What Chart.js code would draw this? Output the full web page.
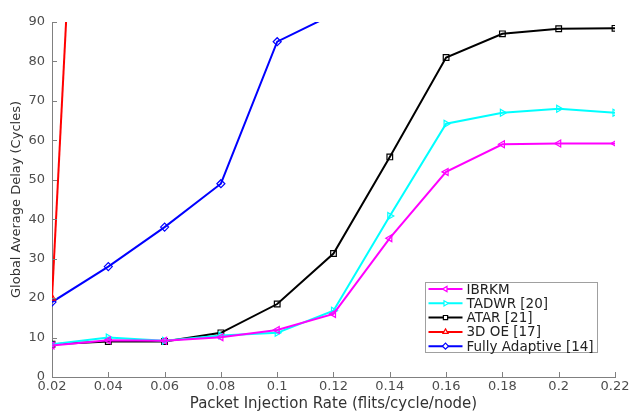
<!DOCTYPE html>
<html lang="en">
<head>
    <meta charset="UTF-8">
    <script src="https://cdn.jsdelivr.net/npm/chart.js"></script>
    <title>Global Average Delay</title>
    <style>
        body { margin: 0; background: #fff; }
        #wrap { width: 632px; height: 413px; }
    </style>
</head>
<body>
    <div id="wrap"><canvas id="delayChart" width="632" height="413"></canvas></div>
    <script>
        // injection rates (flits/cycle/node)
        const rates = [0.02, 0.04, 0.06, 0.08, 0.1, 0.12, 0.14, 0.16, 0.18, 0.2, 0.22];
        const ibrkm = [8.0, 9.3, 9.2, 10.1, 11.9, 16.0, 35.2, 52.0, 59.0, 59.2, 59.2];
        const tadwr = [8.3, 10.0, 9.2, 10.5, 11.2, 16.8, 40.8, 64.2, 67.0, 68.0, 67.0];
        const atar = [8.3, 9.0, 9.0, 11.2, 18.5, 31.3, 55.8, 81.0, 87.0, 88.3, 88.4];
        const oe3d = [20.0, 300.0];
        const fullyAdaptive = [19.0, 28.0, 38.0, 49.0, 85.0, 92.0];
        const yTicks = [0, 10, 20, 30, 40, 50, 60, 70, 80, 90];

        function pts(values) {
            return values.map((v, i) => ({ x: rates[i], y: v }));
        }

        const series = [
            { label: 'IBRKM', data: ibrkm, color: '#ff00ff', style: 'triangle', rot: -90 },
            { label: 'TADWR [20]', data: tadwr, color: '#00ffff', style: 'triangle', rot: 90 },
            { label: 'ATAR [21]', data: atar, color: '#000000', style: 'rect', rot: 0 },
            { label: '3D OE [17]', data: oe3d, color: '#ff0000', style: 'triangle', rot: 0 },
            { label: 'Fully Adaptive [14]', data: fullyAdaptive, color: '#0000ff', style: 'rectRot', rot: 0 }
        ];

        const datasets = series.map(s => ({
            label: s.label,
            data: pts(s.data),
            borderColor: s.color,
            backgroundColor: 'rgba(0,0,0,0)',
            borderWidth: 2,
            pointStyle: s.style,
            pointRotation: s.rot,
            pointRadius: 4,
            pointBorderWidth: 1.2,
            pointBorderColor: s.color,
            tension: 0
        }));

        // inward ticks + legend box, matlab style
        const extras = {
            id: 'extras',
            afterDraw(chart) {
                const ctx = chart.ctx;
                const xs = chart.scales.x, ys = chart.scales.y;
                const a = chart.chartArea;
                ctx.save();
                ctx.strokeStyle = '#808080';
                ctx.lineWidth = 1;
                ctx.beginPath();
                rates.forEach(r => {
                    const px = Math.round(xs.getPixelForValue(r)) + 0.5;
                    ctx.moveTo(px, a.bottom);
                    ctx.lineTo(px, a.bottom - 5);
                });
                yTicks.forEach(t => {
                    const py = Math.round(ys.getPixelForValue(t)) + 0.5;
                    ctx.moveTo(a.left, py);
                    ctx.lineTo(a.left + 5, py);
                });
                ctx.stroke();

                // legend
                const bx = 425.5, by = 282.5, bw = 172, bh = 70;
                ctx.fillStyle = '#fff';
                ctx.fillRect(bx, by, bw, bh);
                ctx.strokeStyle = '#a0a0a0';
                ctx.strokeRect(bx, by, bw, bh);
                ctx.font = '13.5px "DejaVu Sans", sans-serif';
                ctx.textBaseline = 'middle';
                chart.data.datasets.forEach((ds, i) => {
                    const y = by + 6.5 + i * 14.3;
                    ctx.strokeStyle = ds.borderColor;
                    ctx.lineWidth = 2;
                    ctx.beginPath();
                    ctx.moveTo(bx + 3, y);
                    ctx.lineTo(bx + 37, y);
                    ctx.stroke();
                    ctx.lineWidth = 1.2;
                    ctx.fillStyle = '#fff';
                    Chart.helpers.drawPoint(ctx, {
                        pointStyle: ds.pointStyle, rotation: ds.pointRotation,
                        radius: 3, borderWidth: 1.2
                    }, bx + 20, y);
                    ctx.fillStyle = '#222';
                    ctx.fillText(ds.label, bx + 41, y + 1);
                });
                ctx.restore();
            }
        };

        const ctx = document.getElementById('delayChart').getContext('2d');
        new Chart(ctx, {
            type: 'line',
            data: { datasets: datasets },
            options: {
                responsive: false,
                animation: false,
                layout: { padding: { top: 22, right: 17, left: 9, bottom: 0 } },
                plugins: { legend: { display: false }, tooltip: { enabled: false } },
                scales: {
                    x: {
                        type: 'linear',
                        min: 0.02, max: 0.22,
                        afterBuildTicks: s => { s.ticks = rates.map(v => ({ value: v })); },
                        afterFit: s => { s.height = 36; },
                        border: { color: '#808080', width: 1 },
                        grid: { display: false, drawTicks: false },
                        ticks: {
                            color: '#4d4d4d', padding: 2, maxRotation: 0,
                            font: { family: 'DejaVu Sans', size: 13 },
                            callback: v => String(Math.round(v * 100) / 100)
                        },
                        title: {
                            display: true, text: 'Packet Injection Rate (flits/cycle/node)',
                            color: '#333', padding: { top: 0, bottom: 0 },
                            font: { family: 'DejaVu Sans', size: 15 }
                        }
                    },
                    y: {
                        min: 0, max: 90,
                        afterBuildTicks: s => { s.ticks = yTicks.map(v => ({ value: v })); },
                        afterFit: s => { s.width = 43; },
                        border: { color: '#808080', width: 1 },
                        grid: { display: false, drawTicks: false },
                        ticks: {
                            color: '#4d4d4d', padding: 7,
                            font: { family: 'DejaVu Sans', size: 13 }
                        },
                        title: {
                            display: true, text: 'Global Average Delay (Cycles)',
                            color: '#333', padding: { top: 0, bottom: 2 },
                            font: { family: 'DejaVu Sans', size: 13 }
                        }
                    }
                }
            },
            plugins: [extras]
        });
    </script>
</body>
</html>
